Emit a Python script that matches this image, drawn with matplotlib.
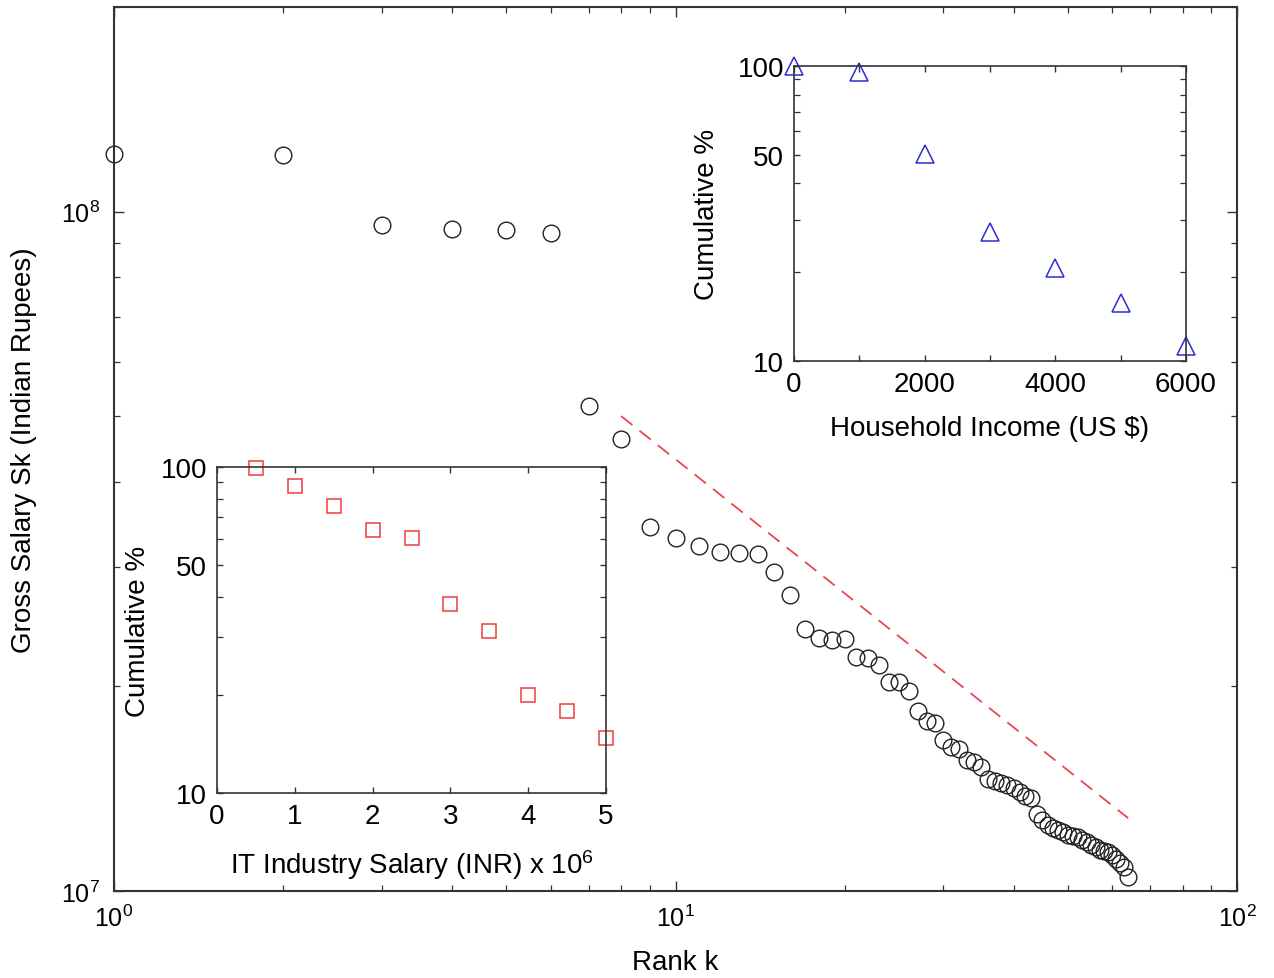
import matplotlib
matplotlib.use('Agg')
import matplotlib.pyplot as plt
from matplotlib.ticker import LogLocator, FixedLocator, NullFormatter, FixedFormatter
import numpy as np

plt.rcParams['font.family'] = ['Liberation Sans', 'DejaVu Sans']
plt.rcParams['mathtext.fontset'] = 'custom'
plt.rcParams['mathtext.rm'] = 'Liberation Sans'
plt.rcParams['mathtext.it'] = 'Liberation Sans:italic'

# main plot: gross salary vs rank
rank = np.arange(1, 65)
salary = [1.217e8, 1.213e8, 9.54e7, 9.41e7, 9.38e7, 9.31e7, 5.17e7, 4.62e7,
          3.43e7, 3.31e7, 3.22e7, 3.15e7, 3.14e7, 3.13e7, 2.95e7, 2.73e7,
          2.43e7, 2.36e7, 2.34e7, 2.35e7, 2.21e7, 2.20e7, 2.15e7, 2.03e7,
          2.03e7, 1.97e7, 1.84e7, 1.78e7, 1.77e7, 1.67e7, 1.63e7, 1.62e7,
          1.56e7, 1.55e7, 1.52e7, 1.46e7, 1.45e7, 1.44e7, 1.43e7, 1.42e7,
          1.40e7, 1.38e7, 1.37e7, 1.30e7, 1.27e7, 1.25e7, 1.24e7, 1.23e7,
          1.22e7, 1.21e7, 1.205e7, 1.20e7, 1.19e7, 1.18e7, 1.17e7, 1.16e7,
          1.15e7, 1.145e7, 1.14e7, 1.13e7, 1.115e7, 1.10e7, 1.085e7, 1.05e7]

# power-law guide line (end points)
fit_k = [8, 64]
fit_s = [5.0e7, 1.28e7]

# inset 1: household income
income = [0, 1000, 2000, 3000, 4000, 5000, 6000]
income_cum = [100, 95.2, 50.5, 27.3, 20.7, 15.7, 11.2]

# inset 2: IT industry salary (x 10^6 INR)
it_salary = [0.5, 1.0, 1.5, 2.0, 2.5, 3.0, 3.5, 4.0, 4.5, 5.0]
it_cum = [99.5, 87.6, 75.7, 64.2, 60.7, 38.1, 31.4, 20.0, 17.9, 14.7]

W, H = 1274, 979
fig = plt.figure(figsize=(W / 100, H / 100), dpi=100)

def box(l, t, r, b):
    return [l / W, 1 - b / H, (r - l) / W, (b - t) / H]

spine_col = '#333333'

def style(ax, lw=1.3):
    for s in ax.spines.values():
        s.set_color(spine_col)
        s.set_linewidth(lw)
    ax.tick_params(which='both', direction='in', top=True, right=True,
                   color=spine_col)
    ax.tick_params(which='major', length=7, width=1.0)
    ax.tick_params(which='minor', length=4, width=0.9)

ax = fig.add_axes(box(114, 8, 1237, 892))
ax.set_xscale('log')
ax.set_yscale('log')
ax.plot(rank, salary, 'o', mfc='none', mec='#222222', ms=12, mew=1.0,
        clip_on=False, zorder=3)
ax.plot(fit_k, fit_s, '--', color='#e8474f', lw=1.3, dashes=(8, 5))
ax.set_xlim(1, 100)
ax.set_ylim(1e7, 2e8)
ax.xaxis.set_major_locator(FixedLocator([1, 10, 100]))
ax.xaxis.set_major_formatter(FixedFormatter([r'$10^{0}$', r'$10^{1}$', r'$10^{2}$']))
ax.xaxis.set_minor_locator(LogLocator(base=10, subs=np.arange(2, 10)))
ax.xaxis.set_minor_formatter(NullFormatter())
ax.yaxis.set_major_locator(FixedLocator([1e7, 1e8]))
ax.yaxis.set_major_formatter(FixedFormatter([r'$10^{7}$', r'$10^{8}$']))
ax.yaxis.set_minor_locator(LogLocator(base=10, subs=np.arange(2, 10)))
ax.yaxis.set_minor_formatter(NullFormatter())
style(ax, 1.5)
ax.tick_params(which='major', labelsize=18, pad=10)
ax.set_xlabel('Rank k', fontsize=20)
ax.xaxis.set_label_coords(0.5, -0.066)
ax.set_ylabel('Gross Salary Sk (Indian Rupees)', fontsize=20)
ax.yaxis.set_label_coords(-0.069, 0.5)

# inset 1: household income
ax1 = fig.add_axes(box(794, 67, 1186, 362))
ax1.set_yscale('log')
ax1.plot(income, income_cum, '^', mfc='none', mec='#2b2bd6', ms=13, mew=1.1,
         clip_on=False)
ax1.set_xlim(0, 6000)
ax1.set_ylim(10, 100)
ax1.xaxis.set_major_locator(FixedLocator([0, 1000, 2000, 3000, 4000, 5000, 6000]))
ax1.xaxis.set_major_formatter(FixedFormatter(['0', '', '2000', '', '4000', '', '6000']))
ax1.yaxis.set_major_locator(FixedLocator([10, 50, 100]))
ax1.yaxis.set_major_formatter(FixedFormatter(['10', '50', '100']))
ax1.yaxis.set_minor_locator(FixedLocator([20, 30, 40, 60, 70, 80, 90]))
ax1.yaxis.set_minor_formatter(NullFormatter())
style(ax1, 1.2)
ax1.tick_params(which='major', length=4, labelsize=20, pad=7)
ax1.set_xlabel('Household Income (US \\$)', fontsize=20)
ax1.xaxis.set_label_coords(0.5, -0.183)
ax1.set_ylabel('Cumulative %', fontsize=20)
ax1.yaxis.set_label_coords(-0.189, 0.5)

# inset 2: IT industry salary
ax2 = fig.add_axes(box(217, 468, 606, 794))
ax2.set_yscale('log')
ax2.plot(it_salary, it_cum, 's', mfc='none', mec='#f03a3a', ms=10, mew=1.1,
         clip_on=False)
ax2.set_xlim(0, 5)
ax2.set_ylim(10, 100)
ax2.xaxis.set_major_locator(FixedLocator([0, 1, 2, 3, 4, 5]))
ax2.yaxis.set_major_locator(FixedLocator([10, 50, 100]))
ax2.yaxis.set_major_formatter(FixedFormatter(['10', '50', '100']))
ax2.yaxis.set_minor_locator(FixedLocator([20, 30, 40, 60, 70, 80, 90]))
ax2.yaxis.set_minor_formatter(NullFormatter())
style(ax2, 1.2)
ax2.tick_params(which='major', length=4, labelsize=20, pad=7)
ax2.set_xlabel(r'IT Industry Salary (INR) x 10$^{6}$', fontsize=20)
ax2.xaxis.set_label_coords(0.5, -0.166)
ax2.set_ylabel('Cumulative %', fontsize=20)
ax2.yaxis.set_label_coords(-0.170, 0.5)

fig.savefig('out.png', dpi=100, facecolor='white')
